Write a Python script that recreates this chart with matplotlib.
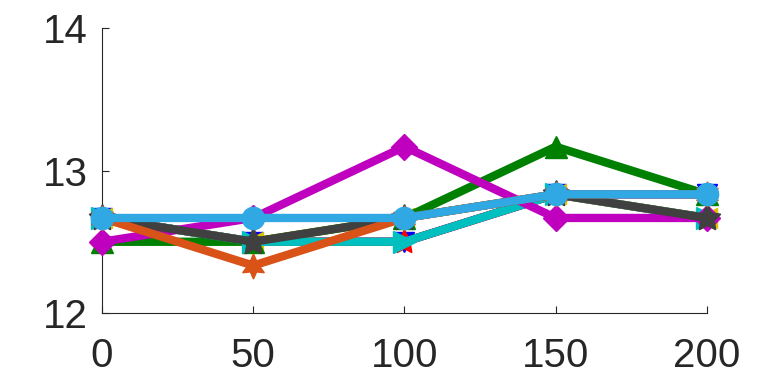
import numpy as np
import matplotlib
matplotlib.use('Agg')
import matplotlib.pyplot as plt

plt.rcParams['font.family'] = ['Liberation Sans', 'DejaVu Sans']

# data
x = [0, 50, 100, 150, 200]
s_blue = [12.667, 12.5, 12.5, 12.833, 12.833]
s_red = [12.667, 12.5, 12.5, 12.833, 12.667]
s_yellow = [12.667, 12.5, 12.667, 12.833, 12.667]
s_green = [12.5, 12.5, 12.667, 13.167, 12.833]
s_cyan = [12.667, 12.5, 12.5, 12.833, 12.667]
s_magenta = [12.5, 12.667, 13.167, 12.667, 12.667]
s_gray = [12.667, 12.5, 12.667, 12.833, 12.667]
s_orange = [12.667, 12.333, 12.667, 12.833, 12.833]
s_lblue = [12.667, 12.667, 12.667, 12.833, 12.833]

series = [s_blue, s_red, s_yellow, s_green, s_cyan, s_magenta, s_gray, s_orange, s_lblue]
colors = ['#0000ff', '#ff0000', '#d9c400', '#008000', '#00bfbf', '#bf00bf',
          '#404040', '#d95319', '#2fa8e4']
markers = ['v', (5, 1, 0), '<', '^', '>', 'D', (5, 1, 0), (6, 1, 0), 'o']
msizes = [15, 18, 15, 16, 16, 13, 20, 18, 16]

fig = plt.figure(figsize=(7.81, 3.75), dpi=100)
ax = fig.add_axes([0.1306, 0.1653, 0.7746, 0.76])

for s, c, m, ms in zip(series, colors, markers, msizes):
    ax.plot(x, s, color=c, lw=6, marker=m, ms=ms, mfc=c, mec=c,
            clip_on=False, zorder=3)

ax.set_xlim(0, 200)
ax.set_ylim(12, 14)
ax.set_xticks([0, 50, 100, 150, 200])
ax.set_yticks([12, 13, 14])
ax.tick_params(direction='in', length=5, width=0.8, colors='#262626',
               labelsize=29)
ax.tick_params(axis='x', pad=17)
ax.tick_params(axis='y', pad=10)
for k in ['top', 'right']:
    ax.spines[k].set_visible(False)
for k in ['left', 'bottom']:
    ax.spines[k].set_color('#262626')
    ax.spines[k].set_linewidth(0.8)

fig.savefig('out.png', dpi=100)
